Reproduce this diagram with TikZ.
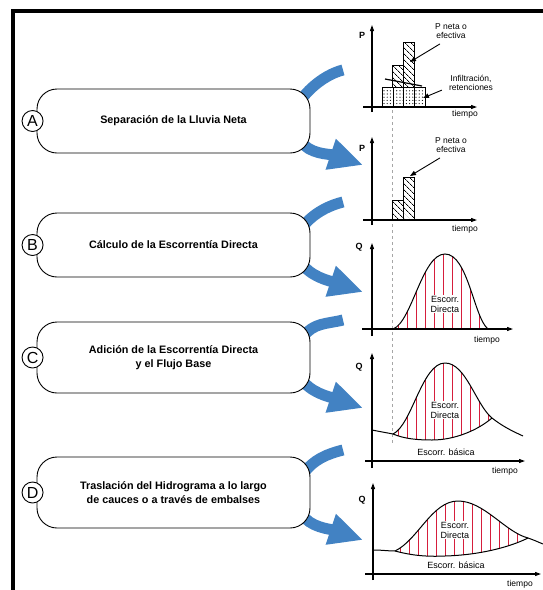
\documentclass[tikz,border=0pt]{standalone}
\usepackage{fontspec}
\setmainfont{Liberation Sans}
\usetikzlibrary{arrows.meta,calc,patterns.meta,backgrounds}
\definecolor{flowblue}{RGB}{66,130,195}
\definecolor{hatchred}{RGB}{214,30,60}

\begin{document}
\begin{tikzpicture}[
  x=1pt, y=-1pt,
  stage/.style={rectangle, draw, fill=white, rounded corners=20pt, line width=0.9pt,
                minimum width=273pt, align=center,
                font=\bfseries\fontsize{10.8}{14}\selectfont},
  tag/.style={circle, draw, fill=white, line width=0.9pt, minimum size=21pt,
              inner sep=0pt, font=\fontsize{16}{16}\selectfont},
  band/.style={flowblue, line width=11pt},
  flow/.style={band, -{Triangle[length=34pt,width=30pt]}},
  axis/.style={line width=1.1pt, -{Triangle[length=6pt,width=4pt]}},
  ptr/.style={line width=0.9pt, -{Triangle[length=6pt,width=4.5pt]}},
  lbl/.style={font=\fontsize{8.5}{9.5}\selectfont, align=center, inner sep=1pt},
  axlbl/.style={font=\bfseries\fontsize{9}{9}\selectfont},
  bar/.style={draw, line width=0.6pt,
              pattern={Lines[angle=-45,distance=4pt,line width=0.7pt]}},
  dotbar/.style={draw, line width=0.5pt,
                 pattern={Dots[distance=3.2pt,radius=0.6pt]}},
  hatchline/.style={hatchred, line width=1pt},
  hydro/.style={line width=1pt}
]
  \useasboundingbox (0,0) rectangle (543,590);
  \draw[line width=4pt] (13,592) -- (13,11) -- (545,11);

  % stages
  \node[stage, minimum height=64pt] (sepA) at (173.5,121) {Separación de la Lluvia Neta};
  \node[stage, minimum height=64pt] (escB) at (173.5,245) {Cálculo de la Escorrentía Directa};
  \node[stage, minimum height=71pt] (addC) at (173.5,357.5) {Adición de la Escorrentía Directa\\y el Flujo Base};
  \node[stage, minimum height=71pt] (trsD) at (173.5,492.5) {Traslación del Hidrograma a lo largo\\de cauces o a través de embalses};
  \node[tag] (tagA) at ([xshift=-4pt]sepA.west) {A};
  \node[tag] (tagB) at ([xshift=-4pt]escB.west) {B};
  \node[tag] (tagC) at ([xshift=-4pt]addC.west) {C};
  \node[tag] (tagD) at ([xshift=-4pt]trsD.west) {D};

  \coordinate (inA) at (343,70);   \coordinate (outA) at (363,165);
  \coordinate (inB) at (343,202);  \coordinate (outB) at (363,292);
  \coordinate (inC) at (343,320);  \coordinate (outC) at (363,408);
  \coordinate (inD) at (343,450);  \coordinate (outD) at (363,540);

  \begin{scope}[on background layer]
    \draw[band] ($(sepA.north east)+(-10,12)$) .. controls +(10,-14) and +(-16,4) .. (inA);
    \draw[flow] ($(sepA.south east)+(-10,-13)$) .. controls +(8,14) and +(-33,-11) .. (outA);
    \draw[band] ($(escB.north east)+(-9,16)$) .. controls +(10,-14) and +(-16,4) .. (inB);
    \draw[flow] ($(escB.south east)+(-9,-15)$) .. controls +(8,14) and +(-33,-11) .. (outB);
    \draw[band] ($(addC.north east)+(-7,15)$) .. controls +(10,-14) and +(-16,4) .. (inC);
    \draw[flow] ($(addC.south east)+(-9,-15)$) .. controls +(8,14) and +(-33,-11) .. (outC);
    \draw[band] ($(trsD.north east)+(-7,17)$) .. controls +(10,-14) and +(-16,4) .. (inD);
    \draw[flow] ($(trsD.south east)+(-9,-15)$) .. controls +(8,14) and +(-33,-11) .. (outD);
  \end{scope}

  \draw[dashed, gray!70, line width=0.6pt] (392.75,110) -- (392.75,445);

  % hietograma bruto
  \foreach \x in {382,392.75,403.5,414.25}
    \draw[dotbar] (\x,87) rectangle +(10.75,20);
  \draw[bar] (392.75,65) rectangle (403.5,87);
  \draw[bar] (403.5,42) rectangle (414.25,87);
  \draw[line width=1.2pt] (385,79) -- (422,86);
  \draw[axis] (372,112) -- (372,25);
  \draw[axis] (363,107) -- (477,107);
  \node[axlbl] (p1) at (362,35) {P};
  \node[lbl] (t1) at (465,114) {tiempo};
  \node[lbl] (net1) at (451,31) {P neta o\\efectiva};
  \node[lbl] (inf1) at (471,83) {Infiltración,\\retenciones};
  \coordinate (hitNet1) at (410,62);
  \coordinate (hitInf1) at (423,98);
  \draw[ptr] ($(net1.south west)+(6,4)$) -- (hitNet1);
  \draw[ptr] ($(inf1.south west)+(-6,-2)$) -- (hitInf1);

  % lluvia neta
  \draw[bar] (392.75,200) rectangle (403.5,220);
  \draw[bar] (403.5,177) rectangle (414.25,220);
  \draw[axis] (372,225) -- (372,137);
  \draw[axis] (363,220) -- (477,220);
  \node[axlbl] (p2) at (362,148) {P};
  \node[lbl] (t2) at (465,229) {tiempo};
  \node[lbl] (net2) at (451,145) {P neta o\\efectiva};
  \coordinate (hitNet2) at (410,176);
  \draw[ptr] ($(net2.south west)+(6,4)$) -- (hitNet2);

  % escorrentia directa
  \begin{scope}
    \clip (393,329) .. controls (412,322) and (422,254) .. (445,254)
          .. controls (468,254) and (474,318) .. (488,329) -- cycle;
    \foreach \x in {398.5,407.5,...,487}
      \draw[hatchline] (\x,250) -- (\x,330);
  \end{scope}
  \draw[hydro] (393,329) .. controls (412,322) and (422,254) .. (445,254)
               .. controls (468,254) and (474,318) .. (488,329);
  \draw[axis] (372,336) -- (372,243);
  \draw[axis] (362,329) -- (513,329);
  \node[axlbl] (q3) at (359,247) {Q};
  \node[lbl] (t3) at (487,340) {tiempo};
  \node[lbl, fill=white, font=\fontsize{9}{10}\selectfont] (dir3) at (445,304) {Escorr.\\Directa};

  % con flujo base
  \begin{scope}
    \clip (393,434) .. controls (412,425) and (422,363) .. (445,363)
          .. controls (466,363) and (476,405) .. (492,418)
          .. controls (478,430) and (455,440) .. (432,440)
          .. controls (418,440) and (405,439) .. (393,434) -- cycle;
    \foreach \x in {398.5,407.5,...,491}
      \draw[hatchline] (\x,355) -- (\x,445);
  \end{scope}
  \draw[hydro] (393,434) .. controls (412,425) and (422,363) .. (445,363)
               .. controls (466,363) and (476,405) .. (492,418)
               .. controls (502,426) and (512,431) .. (523,436);
  \draw[hydro] (372,430) .. controls (382,432) and (388,433) .. (393,434)
               .. controls (405,439) and (418,440) .. (432,440)
               .. controls (455,440) and (478,430) .. (492,418);
  \draw[axis] (372,468) -- (372,353);
  \draw[axis] (365,461) -- (525,461);
  \node[axlbl] (q4) at (359,367) {Q};
  \node[lbl] (t4) at (505,471) {tiempo};
  \node[lbl, fill=white, font=\fontsize{9}{10}\selectfont] (dir4) at (445,410) {Escorr.\\Directa};
  \node[lbl, font=\fontsize{9}{10}\selectfont] (bas4) at (446,452) {Escorr. básica};

  % hidrograma trasladado
  \begin{scope}
    \clip (395,551) .. controls (418,540) and (432,501) .. (458,501)
          .. controls (484,501) and (505,532) .. (528,538)
          .. controls (510,547) and (480,555) .. (445,556)
          .. controls (425,557) and (410,555) .. (395,551) -- cycle;
    \foreach \x in {400.5,409.5,...,527}
      \draw[hatchline] (\x,495) -- (\x,560);
  \end{scope}
  \draw[hydro] (395,551) .. controls (418,540) and (432,501) .. (458,501)
               .. controls (484,501) and (505,532) .. (528,538)
               .. controls (534,540) and (538,542) .. (543,544);
  \draw[hydro] (373,550) .. controls (382,550) and (388,551) .. (395,551)
               .. controls (410,555) and (425,557) .. (445,556)
               .. controls (480,555) and (510,547) .. (528,538);
  \draw[axis] (373,580) -- (373,483);
  \draw[axis] (365,574) -- (541,574);
  \node[axlbl] (q5) at (362,500) {Q};
  \node[lbl] (t5) at (520,584) {tiempo};
  \node[lbl, fill=white, font=\fontsize{9}{10}\selectfont] (dir5) at (455,530) {Escorr.\\Directa};
  \node[lbl, font=\fontsize{9}{10}\selectfont] (bas5) at (456,565) {Escorr. básica};
\end{tikzpicture}
\end{document}
